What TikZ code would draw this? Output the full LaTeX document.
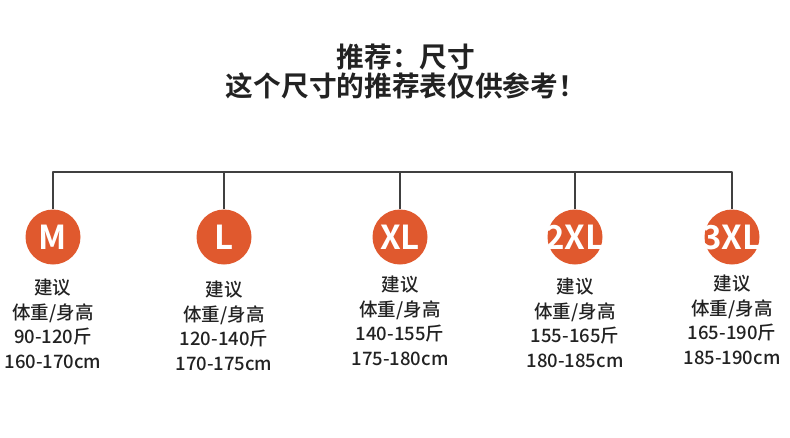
\documentclass[tikz,border=0pt]{standalone}
\usepackage{fontspec}
\setmainfont{Noto Sans CJK SC}[BoldFont={Noto Sans CJK SC Bold}]
\newfontfamily\infofont{Noto Sans CJK SC Medium}
\usetikzlibrary{positioning}

\definecolor{sizeorange}{HTML}{E0592E}
\definecolor{treeline}{HTML}{404040}
\definecolor{textgray}{HTML}{222222}

\newcommand{\sizelabel}[1]{\makebox[0pt]{#1}}

\tikzset{
	sizedot/.style={circle, fill=sizeorange, text=white, minimum size=55pt, inner sep=0pt,
		font=\fontsize{33}{33}\selectfont\bfseries},
	sizeinfo/.style={align=center, text=textgray, font=\infofont\fontsize{18.5}{24.5}\selectfont},
	headline/.style={align=center, text=textgray, font=\fontsize{27.7}{29}\selectfont\bfseries}
}

\begin{document}
\begin{tikzpicture}[
				x=1pt,
				y=-1pt,
				line join=round
			]

			\useasboundingbox (0,0) rectangle (790,437);

			% Heading
			\node[headline] (title) at (406,72) {推荐：尺寸\\这个尺寸的推荐表仅供参考！};

			% Size circles
			\node[sizedot] (m)   at (53,237)  {\sizelabel{M}};
			\node[sizedot] (l)   at (224,237) {\sizelabel{L}};
			\node[sizedot] (xl)  at (400,237) {\sizelabel{XL}};
			\node[sizedot] (xxl) at (575,237) {\sizelabel{2XL}};
			\node[sizedot] (xxxl) at (732,237) {\sizelabel{3XL}};

			% Recommended weight / height
			\node[sizeinfo, below=11pt of m]   (m-info)   {建议\\体重/身高\\90-120斤\\160-170cm};
			\node[sizeinfo, below=13pt of l]   (l-info)   {建议\\体重/身高\\120-140斤\\170-175cm};
			\node[sizeinfo, below=8pt of xl]  (xl-info)  {建议\\体重/身高\\140-155斤\\175-180cm};
			\node[sizeinfo, below=10pt of xxl] (xxl-info) {建议\\体重/身高\\155-165斤\\180-185cm};
			\node[sizeinfo, below=7pt of xxxl] (xxxl-info) {建议\\体重/身高\\165-190斤\\185-190cm};

			% Tree lines
			\coordinate (bar) at (400,172);
			\draw[treeline, line width=1.4pt] (m.north) |- (bar) -| (xxxl.north);
			\draw[treeline, line width=1.4pt] (l.north) -- (l.north |- bar);
			\draw[treeline, line width=1.4pt] (xl.north) -- (bar);
			\draw[treeline, line width=1.4pt] (xxl.north) -- (xxl.north |- bar);

		\end{tikzpicture}
\end{document}
